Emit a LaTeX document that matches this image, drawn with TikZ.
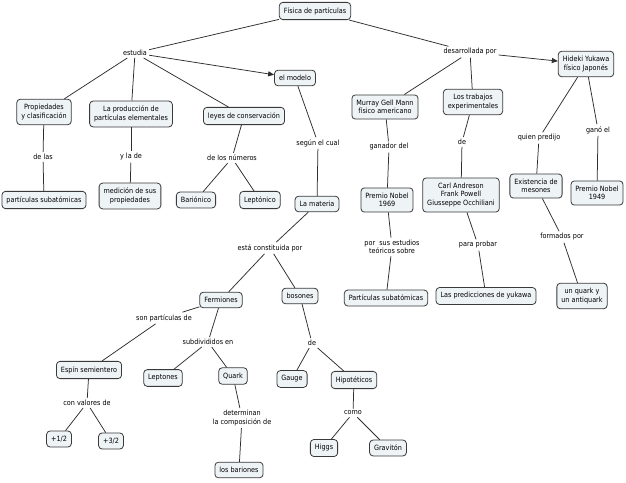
\documentclass[tikz,border=0pt]{standalone}
\usepackage{fontspec}
\setmainfont{DejaVu Sans Condensed}
\usetikzlibrary{arrows.meta}
\definecolor{boxfill}{HTML}{EEF3F6}
\definecolor{boxline}{HTML}{3A3A3A}
\definecolor{linkline}{HTML}{2E2E2E}
\tikzset{
  cbox/.style={draw=boxline, fill=boxfill, rounded corners=3.5pt, line width=0.8pt,
    inner xsep=4.5pt, inner ysep=5pt, align=center, font=\fontsize{7.2}{8.6}\selectfont, text=black},
  lbl/.style={inner sep=2pt, align=center, font=\fontsize{7.2}{8.6}\selectfont, text=black},
  conn/.style={draw=linkline, line width=0.75pt},
  arr/.style={conn, -{Triangle[length=6pt,width=5pt]}},
}
\begin{document}
\begin{tikzpicture}[x=1pt,y=-1pt]
\useasboundingbox (0,0) rectangle (626,482);
\fill[white] (0,0) rectangle (626,482);
% concepts
\node[cbox] (fis) at (315,11) {Física de partículas};
\node[cbox] (mod) at (295,78) {el modelo};
\node[cbox] (prop) at (44,112) {Propiedades\\y clasificación};
\node[cbox] (prod) at (131,114) {La producción de\\partículas elementales};
\node[cbox] (ley) at (244,116) {leyes de conservación};
\node[cbox] (psub) at (44,200) {partículas subatómicas};
\node[cbox] (med) at (130,196) {medición de sus\\propiedades};
\node[cbox] (bar) at (196,200) {Bariónico};
\node[cbox] (lep) at (260,200) {Leptónico};
\node[cbox] (mat) at (317,204) {La materia};
\node[cbox] (hid) at (586,64) {Hideki Yukawa\\físico Japonés};
\node[cbox] (mur) at (385,107) {Murray Gell Mann\\físico americano};
\node[cbox] (tra) at (473,102) {Los trabajos\\experimentales};
\node[cbox] (pn69) at (387,200) {Premio Nobel\\1969};
\node[cbox] (carl) at (461,195) {Carl Andreson\\Frank Powell\\Giusseppe Occhiliani};
\node[cbox] (mes) at (536,186) {Existencia de\\mesones};
\node[cbox] (pn49) at (597,193) {Premio Nobel\\1949};
\node[cbox] (psub2) at (386,298) {Partículas subatómicas};
\node[cbox] (pred) at (486,296) {Las predicciones de yukawa};
\node[cbox] (uq) at (582,296) {un quark y\\un antiquark};
\node[cbox] (fer) at (221,300) {Fermiones};
\node[cbox] (bos) at (300,296) {bosones};
\node[cbox] (esp) at (89,370) {Espín semientero};
\node[cbox] (lept) at (163,378) {Leptones};
\node[cbox] (qua) at (233,376) {Quark};
\node[cbox] (gau) at (292,379) {Gauge};
\node[cbox] (hip) at (354,380) {Hipotéticos};
\node[cbox] (p12) at (59,439) {+1/2};
\node[cbox] (p32) at (111,441) {+3/2};
\node[cbox] (bari) at (239,470) {los bariones};
\node[cbox] (hig) at (324,448) {Higgs};
\node[cbox] (gra) at (388,448) {Gravitón};
% linking phrases
\node[lbl] (est) at (135,53) {estudia};
\node[lbl] (des) at (470,52) {desarrollada por};
\node[lbl] (dlas) at (43,157) {de las};
\node[lbl] (ylade) at (131,157) {y la de};
\node[lbl] (dnum) at (232,158) {de los números};
\node[lbl] (seg) at (318,143) {según el cual};
\node[lbl] (gan) at (389,147) {ganador del};
\node[lbl] (de1) at (462,142) {de};
\node[lbl] (qp) at (539,138) {quien predijo};
\node[lbl] (ganel) at (598,130) {ganó el};
\node[lbl] (pse) at (392,247) {por \ sus estudios\\teóricos sobre};
\node[lbl] (ppr) at (478,245) {para probar};
\node[lbl] (fpor) at (562,237) {formados por};
\node[lbl] (ecp) at (270,248) {está constituida por};
\node[lbl] (spd) at (164,318) {son partículas de};
\node[lbl] (sub) at (208,342) {subdivididos en};
\node[lbl] (de2) at (312,343) {de};
\node[lbl] (cvd) at (87,403) {con valores de};
\node[lbl] (det) at (242,418) {determinan\\la composición de};
\node[lbl] (como) at (353,413) {como};
% connectors
\draw[conn] (fis) -- (est);
\draw[conn] (est) -- (prop);
\draw[conn] (est) -- (prod);
\draw[conn] (est) -- (ley);
\draw[arr] (est) -- (mod);
\draw[conn] (fis) -- (des);
\draw[conn] (des) -- (mur);
\draw[conn] (des) -- (tra);
\draw[arr] (des) -- (hid);
\draw[conn] (prop) -- (dlas);
\draw[conn] (dlas) -- (psub);
\draw[conn] (prod) -- (ylade);
\draw[conn] (ylade) -- (med);
\draw[conn] (ley) -- (dnum);
\draw[conn] (dnum) -- (bar);
\draw[conn] (dnum) -- (lep);
\draw[conn] (mod) -- (seg);
\draw[conn] (seg) -- (mat);
\draw[conn] (mat) -- (ecp);
\draw[conn] (ecp) -- (fer);
\draw[conn] (ecp) -- (bos);
\draw[conn] (fer) -- (spd);
\draw[conn] (spd) -- (esp);
\draw[conn] (fer) -- (sub);
\draw[conn] (sub) -- (lept);
\draw[conn] (sub) -- (qua);
\draw[conn] (esp) -- (cvd);
\draw[conn] (cvd) -- (p12);
\draw[conn] (cvd) -- (p32);
\draw[conn] (qua) -- (det);
\draw[conn] (det) -- (bari);
\draw[conn] (bos) -- (de2);
\draw[conn] (de2) -- (gau);
\draw[conn] (de2) -- (hip);
\draw[conn] (hip) -- (como);
\draw[conn] (como) -- (hig);
\draw[conn] (como) -- (gra);
\draw[conn] (mur) -- (gan);
\draw[conn] (gan) -- (pn69);
\draw[conn] (pn69) -- (pse);
\draw[conn] (pse) -- (psub2);
\draw[conn] (tra) -- (de1);
\draw[conn] (de1) -- (carl);
\draw[conn] (carl) -- (ppr);
\draw[conn] (ppr) -- (pred);
\draw[conn] (hid) -- (qp);
\draw[conn] (qp) -- (mes);
\draw[conn] (mes) -- (fpor);
\draw[conn] (fpor) -- (uq);
\draw[conn] (hid) -- (ganel);
\draw[conn] (ganel) -- (pn49);
\end{tikzpicture}
\end{document}
